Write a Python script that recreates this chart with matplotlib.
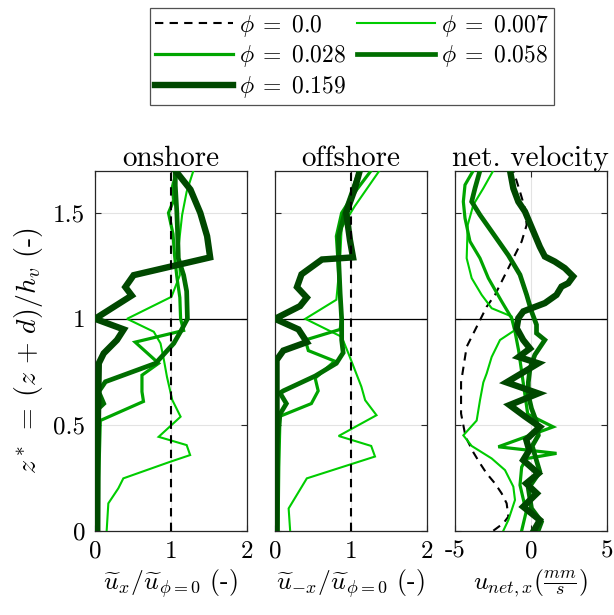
import matplotlib
matplotlib.use("Agg")
import matplotlib.pyplot as plt

plt.rcParams['font.family'] = 'serif'
plt.rcParams['font.serif'] = ['cmr10', 'DejaVu Serif']
plt.rcParams['mathtext.fontset'] = 'cm'
plt.rcParams['axes.unicode_minus'] = False

# ---------------- data ----------------
phi_labels = [r'$\phi\;=\;0.0$', r'$\phi\;=\;0.007$', r'$\phi\;=\;0.028$', r'$\phi\;=\;0.058$', r'$\phi\;=\;0.159$']

# onshore
on_000_x = [1.0, 1.0]
on_000_z = [0.0, 1.7]
on_007_x = [0.154, 0.176, 0.308, 0.374, 0.99, 1.256, 1.21, 0.84, 1.13, 1.02, 0.95, 0.91, 0.865, 0.776, 0.423, 1.01, 1.12, 1.10, 1.15, 1.21, 1.30]
on_007_z = [0.0, 0.129, 0.20, 0.247, 0.325, 0.357, 0.404, 0.443, 0.538, 0.617, 0.726, 0.805, 0.884, 0.939, 1.0, 1.104, 1.206, 1.33, 1.49, 1.60, 1.70]
on_028_x = [0.044, 0.05, 0.07, 0.64, 0.62, 0.62, 0.84, 0.53, 1.17, 1.13, 1.12, 1.08, 1.05, 1.03, 0.97, 1.04, 1.02, 1.08]
on_028_z = [0.0, 0.25, 0.52, 0.61, 0.656, 0.734, 0.79, 0.89, 0.945, 1.0, 1.1, 1.2, 1.3, 1.4, 1.5, 1.56, 1.62, 1.70]
on_058_x = [0.02, 0.025, 0.026, 0.115, 0.048, 0.137, 0.80, 1.04, 1.13, 1.22, 1.21, 1.17, 1.10, 1.09, 1.08, 1.06, 1.06]
on_058_z = [0.0, 0.3, 0.57, 0.60, 0.656, 0.703, 0.79, 0.884, 0.94, 1.0, 1.13, 1.206, 1.285, 1.41, 1.505, 1.63, 1.70]
on_159_x = [0.03, 0.03, 0.044, 0.05, 0.115, 0.29, 0.38, 0.0, 0.485, 0.40, 0.51, 1.52, 1.48, 1.39, 1.26, 1.06]
on_159_z = [0.0, 0.33, 0.65, 0.79, 0.837, 0.90, 0.95, 1.0, 1.11, 1.15, 1.206, 1.29, 1.39, 1.50, 1.61, 1.70]

# offshore
off_000_x = [1.0, 1.0]
off_000_z = [0.0, 1.7]
off_007_x = [0.20, 0.18, 0.42, 1.32, 1.27, 0.84, 1.34, 1.19, 1.14, 0.97, 0.88, 0.40, 0.81, 0.86, 0.88, 1.05, 1.38]
off_007_z = [0.0, 0.105, 0.247, 0.35, 0.40, 0.447, 0.545, 0.616, 0.68, 0.836, 0.915, 1.0, 1.09, 1.28, 1.43, 1.53, 1.70]
off_028_x = [0.04, 0.05, 0.066, 0.48, 0.57, 0.53, 0.79, 0.44, 0.40, 0.86, 0.88, 0.85, 0.83, 0.81, 0.88, 1.08, 1.27]
off_028_z = [0.0, 0.3, 0.54, 0.60, 0.66, 0.72, 0.80, 0.85, 0.90, 0.95, 1.0, 1.15, 1.28, 1.39, 1.5, 1.61, 1.70]
off_058_x = [0.02, 0.02, 0.066, 0.15, 0.066, 0.11, 0.53, 0.81, 0.90, 0.88, 0.88, 0.86, 0.84, 0.84, 0.92, 1.03, 1.12]
off_058_z = [0.0, 0.4, 0.55, 0.60, 0.65, 0.66, 0.73, 0.79, 0.84, 0.90, 1.0, 1.12, 1.28, 1.39, 1.50, 1.61, 1.70]
off_159_x = [0.02, 0.02, 0.02, 0.11, 0.42, 0.31, 0.0, 0.33, 0.42, 0.29, 0.35, 0.62, 1.03, 0.99, 0.94, 1.05, 1.12]
off_159_z = [0.0, 0.4, 0.805, 0.85, 0.89, 0.95, 1.0, 1.06, 1.10, 1.15, 1.21, 1.28, 1.29, 1.37, 1.50, 1.61, 1.70]

# net velocity (mm/s)
net_000_x = [-2.47, -1.81, -1.48, -1.59, -1.92, -2.36, -2.91, -3.35, -3.79, -4.3, -4.6, -4.6, -4.23, -3.57, -2.91, -2.36, -1.48, -0.60, -0.27, -0.38, -0.71, -1.15]
net_000_z = [0.0, 0.035, 0.066, 0.129, 0.176, 0.223, 0.27, 0.318, 0.37, 0.443, 0.553, 0.70, 0.868, 0.962, 1.057, 1.113, 1.239, 1.365, 1.443, 1.52, 1.60, 1.70]
net_007_x = [-1.81, -1.48, -1.26, -1.04, -1.15, -1.70, -2.58, -3.9, -4.45, -3.57, -3.35, -3.13, -2.91, -2.58, -2.03, -1.04, -1.26, -2.58, -3.24, -3.90, -4.23, -4.16, -3.79, -3.13, -2.47]
net_007_z = [0.0, 0.05, 0.097, 0.145, 0.208, 0.286, 0.341, 0.40, 0.45, 0.52, 0.616, 0.70, 0.742, 0.82, 0.90, 0.947, 1.011, 1.05, 1.113, 1.192, 1.286, 1.443, 1.538, 1.616, 1.70]
net_028_x = [-0.6, -0.3, -0.71, -0.6, -0.3, 1.7, -2.14, 1.48, -0.2, -0.4, -0.6, -0.8, -1.04, -1.26, -1.92, -2.80, -3.35, -4.01, -4.34, -4.45, -4.34, -3.79]
net_028_z = [0.0, 0.09, 0.215, 0.30, 0.34, 0.365, 0.396, 0.49, 0.55, 0.65, 0.75, 0.85, 0.94, 1.003, 1.082, 1.192, 1.286, 1.365, 1.475, 1.553, 1.632, 1.70]
net_058_x = [0.49, 0.71, 0.05, -0.16, 0.60, 0.3, 0.1, 0.5, 0.38, 0.05, -0.16, -0.16, -0.05, 0.27, 0.93, 0.38, 0.38, 0.05, -0.27, -0.71, -1.48, -2.58, -3.35, -3.90, -3.68, -3.35]
net_058_z = [0.0, 0.042, 0.105, 0.2, 0.278, 0.35, 0.40, 0.45, 0.514, 0.577, 0.64, 0.70, 0.766, 0.83, 0.90, 0.932, 0.972, 1.035, 1.113, 1.208, 1.30, 1.412, 1.49, 1.553, 1.616, 1.70]
net_159_x = [0.2, 0.6, -0.5, 0.4, -0.3, 0.5, -0.5, -0.1, -0.3, 0.6, -0.4, -1.4, 0.5, -1.6, 0.5, -0.8, -0.05, -0.5, -0.93, -0.82, -0.49, 0.05, 0.93, 1.70, 2.03, 2.47, 2.80, 2.25, 1.59, 0.93, 0.60, 0.27, -0.05, -0.38, -0.82, -1.15, -1.37]
net_159_z = [0.0, 0.05, 0.113, 0.176, 0.223, 0.27, 0.333, 0.38, 0.43, 0.49, 0.54, 0.593, 0.648, 0.70, 0.79, 0.82, 0.86, 0.90, 0.956, 1.003, 1.035, 1.05, 1.074, 1.113, 1.152, 1.168, 1.2, 1.239, 1.27, 1.294, 1.34, 1.396, 1.45, 1.506, 1.553, 1.616, 1.70]

panel_titles = ['onshore', 'offshore', 'net. velocity']
panel_xlabels = [r'$\widetilde{u}_x/\widetilde{u}_{\phi=0}$ (-)',
                 r'$\widetilde{u}_{-x}/\widetilde{u}_{\phi=0}$ (-)',
                 r'$u_{net,x}(\frac{mm}{s})$']
panel_xticks = [[0, 1, 2], [0, 1, 2], [-5, 0, 5]]
panel_xticklabels = [['0', '1', '2'], ['0', '1', '2'], ['-5', '0', '5']]
yticks = [0, 0.5, 1, 1.5]
yticklabels = ['0', '0.5', '1', '1.5']
ylabel = r'$z^* \;=\; (z \,+\, d)/h_v$ (-)'

# ---------------- styles ----------------
colors = ['black', '#00cc00', '#00a500', '#006e00', '#004800']
widths = [1.5, 1.5, 2.3, 3.4, 4.6]

fig = plt.figure(figsize=(6.14, 6.15), dpi=100)
lefts = [95/614, 275/614, 455/614]
w = 151.5/614
b = 1 - 530.7/615
h = (530.7 - 170.5)/615

panels = [
    [(on_000_x, on_000_z), (on_007_x, on_007_z), (on_028_x, on_028_z), (on_058_x, on_058_z), (on_159_x, on_159_z)],
    [(off_000_x, off_000_z), (off_007_x, off_007_z), (off_028_x, off_028_z), (off_058_x, off_058_z), (off_159_x, off_159_z)],
    [(net_000_x, net_000_z), (net_007_x, net_007_z), (net_028_x, net_028_z), (net_058_x, net_058_z), (net_159_x, net_159_z)],
]
xlims = [(0, 2), (0, 2), (-5, 5)]

handles = []
for i, (l, series) in enumerate(zip(lefts, panels)):
    ax = fig.add_axes([l, b, w, h])
    ax.set_xlim(*xlims[i])
    ax.set_ylim(0, 1.7)
    ax.grid(True, color='#e3e3e3', linewidth=0.8)
    ax.set_axisbelow(True)
    ax.axhline(1.0, color='black', linewidth=0.9, zorder=1.5)
    hs = []
    for k, (xs, zs) in enumerate(series):
        if k == 0:
            ln, = ax.plot(xs, zs, color=colors[k], linewidth=widths[k], linestyle=(0, (4, 3)), zorder=10 if i < 2 else 2)
        else:
            ln, = ax.plot(xs, zs, color=colors[k], linewidth=widths[k], solid_joinstyle='miter', zorder=2 + k)
        hs.append(ln)
    if i == 0:
        handles = hs
    ax.set_xticks(panel_xticks[i])
    ax.set_xticklabels(panel_xticklabels[i])
    ax.set_yticks(yticks)
    if i == 0:
        ax.set_yticklabels(yticklabels)
        ax.set_ylabel(ylabel, fontsize=20, labelpad=6)
    else:
        ax.set_yticklabels([])
    ax.tick_params(direction='in', length=4, width=0.8, top=True, right=True, labelsize=18, pad=7, colors='#262626', labelcolor='black')
    for sp in ax.spines.values():
        sp.set_color('#262626')
        sp.set_linewidth(0.9)
    ax.set_title(panel_titles[i], fontsize=21, pad=3)
    ax.set_xlabel(panel_xlabels[i], fontsize=18.5, labelpad=3)

order = [0, 2, 4, 1, 3]
leg = fig.legend([handles[j] for j in order], [phi_labels[j] for j in order],
                 loc='upper center', bbox_to_anchor=(0.573, 0.987), ncol=2,
                 fontsize=17, handlelength=3.3, columnspacing=0.5, handletextpad=0.25,
                 labelspacing=0.2, borderpad=0.2, borderaxespad=0.0,
                 frameon=True, fancybox=False)
leg.get_frame().set_edgecolor('#262626')
leg.get_frame().set_linewidth(0.9)

fig.savefig('out.png', dpi=100)
